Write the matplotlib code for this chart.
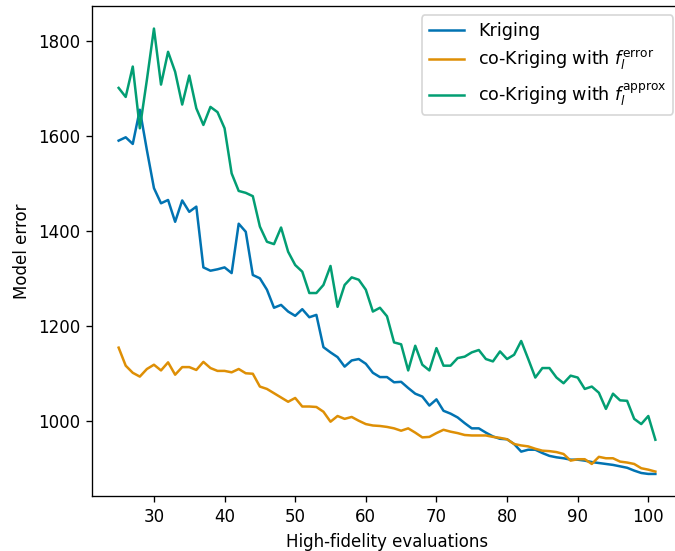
import numpy as np
import matplotlib
matplotlib.use("Agg")
import matplotlib.pyplot as plt

evaluations = list(range(25, 102))

kriging = [1590, 1597, 1583, 1655, 1570, 1490, 1458, 1465, 1419, 1464,
           1440, 1451, 1323, 1316, 1319, 1323, 1311, 1415, 1398, 1307,
           1300, 1276, 1238, 1244, 1230, 1221, 1235, 1218, 1223, 1155,
           1144, 1134, 1114, 1127, 1130, 1120, 1101, 1092, 1092, 1081,
           1082, 1069, 1057, 1051, 1032, 1045, 1021, 1015, 1007, 995,
           984, 984, 975, 967, 962, 961, 951, 935, 939, 939,
           932, 926, 923, 921, 918, 918, 916, 913, 911, 909,
           907, 904, 901, 895, 890, 888, 888]

cok_error = [1154, 1116, 1101, 1093, 1109, 1118, 1106, 1123, 1097, 1113,
             1113, 1107, 1124, 1111, 1105, 1105, 1102, 1109, 1100, 1099,
             1072, 1067, 1058, 1049, 1040, 1048, 1030, 1030, 1029, 1019,
             998, 1010, 1004, 1008, 1000, 993, 990, 989, 987, 984,
             979, 984, 975, 965, 966, 974, 981, 977, 974, 970,
             969, 969, 969, 966, 964, 961, 951, 948, 946, 941,
             937, 936, 934, 930, 916, 919, 919, 909, 924, 921,
             921, 914, 912, 909, 900, 897, 893]

cok_approx = [1701, 1682, 1746, 1616, 1718, 1826, 1708, 1777, 1735, 1666,
              1727, 1658, 1623, 1661, 1650, 1616, 1521, 1484, 1480, 1473,
              1409, 1377, 1372, 1407, 1356, 1328, 1314, 1269, 1269, 1286,
              1326, 1240, 1286, 1302, 1297, 1276, 1230, 1238, 1220, 1165,
              1161, 1106, 1158, 1118, 1106, 1153, 1116, 1116, 1132, 1135,
              1144, 1149, 1130, 1125, 1146, 1130, 1139, 1168, 1130, 1091,
              1111, 1111, 1091, 1079, 1095, 1091, 1067, 1072, 1059, 1025,
              1057, 1043, 1042, 1004, 993, 1010, 960]

labels = ["Kriging",
          r"co-Kriging with $f_l^{\mathrm{error}}$",
          r"co-Kriging with $f_l^{\mathrm{approx}}$"]
colors = ["#0173b2", "#de8f05", "#029e73"]

W, H, DPI = 675, 551, 120
fig = plt.figure(figsize=(W / DPI, H / DPI), dpi=DPI)
ax = fig.add_axes([91.8 / W, 1 - 496.2 / H, (682.2 - 91.8) / W, (496.2 - 6.3) / H])

for series, lab, col in zip([kriging, cok_error, cok_approx], labels, colors):
    ax.plot(evaluations, series, color=col, label=lab, linewidth=1.5)

ax.spines["right"].set_visible(False)
ax.set_xlabel("High-fidelity evaluations")
ax.set_ylabel("Model error")
ax.legend(loc="upper right", fontsize=10.5)

fig.savefig("out.png", dpi=DPI)
